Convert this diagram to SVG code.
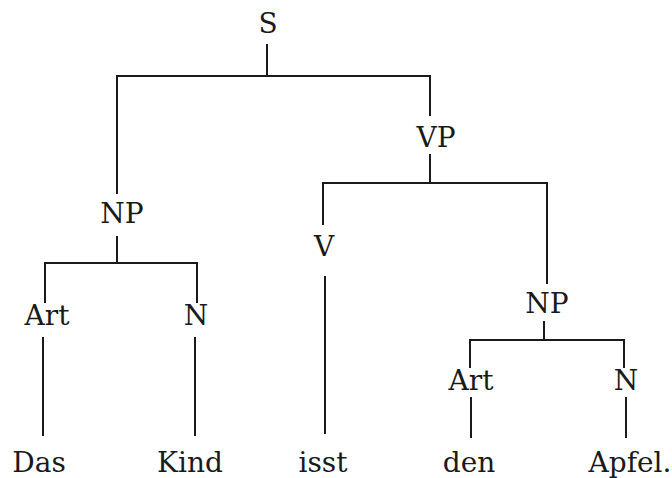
<svg xmlns="http://www.w3.org/2000/svg" width="672" height="478" viewBox="0 0 672 478">
<style>
.e{fill:none;stroke:#1a1a1a;stroke-width:2;stroke-linecap:square}
</style>
<rect width="672" height="478" fill="#ffffff"/>
<g id="connectors">
<path class="e" d="M267,45V76M117,193V76H430V115"/>
<path class="e" d="M117,237V263M45,302V263H197V302"/>
<path class="e" d="M43,338V435M195,338V435"/>
<path class="e" d="M430,155V183M323,224V183H547V283"/>
<path class="e" d="M325,277V433"/>
<path class="e" d="M544,322V340M470,367V340H624V367"/>
<path class="e" d="M471,398V437M626,398V437"/>
</g>
<g font-family="DejaVu Serif, serif" font-size="28" fill="#1a1a1a" text-anchor="middle">
<g id="S"><text x="268" y="33">S</text></g>
<g id="NP1"><text x="122" y="223">NP</text></g>
<g id="VP"><text x="436" y="147">VP</text></g>
<g id="Art1"><text x="47" y="325">Art</text></g>
<g id="N1"><text x="196" y="325">N</text></g>
<g id="V"><text x="324" y="256">V</text></g>
<g id="NP2"><text x="547" y="313">NP</text></g>
<g id="Art2"><text x="471" y="390">Art</text></g>
<g id="N2"><text x="626" y="390">N</text></g>
<g id="Das"><text x="39" y="472">Das</text></g>
<g id="Kind"><text x="190" y="472">Kind</text></g>
<g id="isst"><text x="323" y="472">isst</text></g>
<g id="den"><text x="469" y="472">den</text></g>
<g id="Apfel"><text x="630" y="472">Apfel.</text></g>
</g>
</svg>
